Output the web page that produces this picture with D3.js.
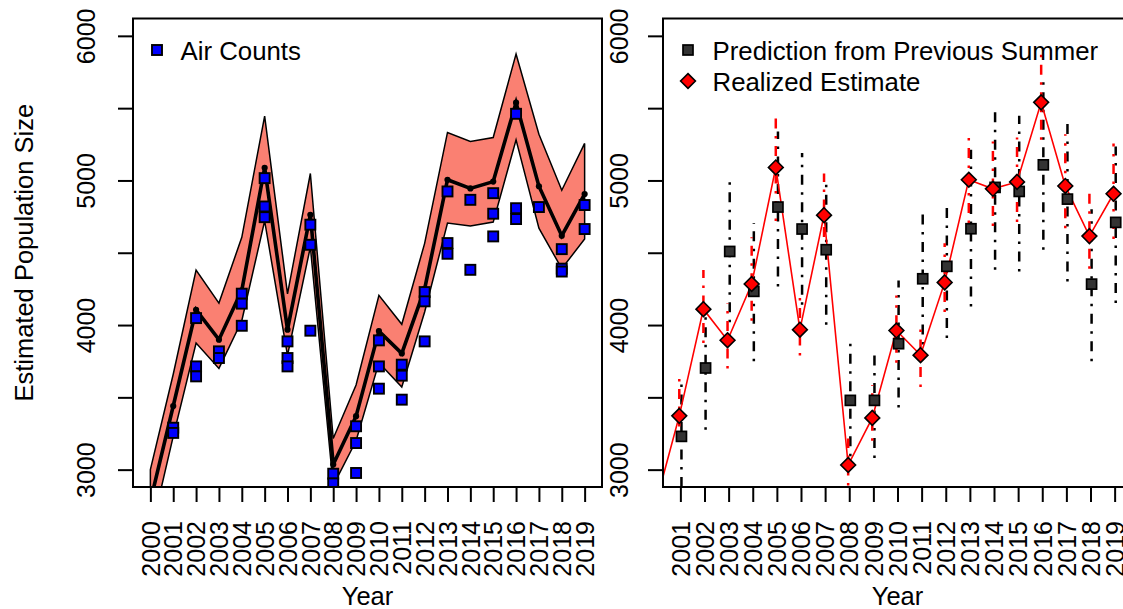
<!DOCTYPE html>
<html>
<head>
<meta charset="utf-8">
<script src="https://cdn.jsdelivr.net/npm/d3@7"></script>
<style>
  body { margin: 0; background: #fff; }
  svg text { font-family: "Liberation Sans", Arial, sans-serif; fill: #000; }
</style>
</head>
<body>
<svg id="chart" width="1123" height="609"></svg>
<script>
// estimated population, 2000-2019 (interval + realized estimate)
var years = [2000, 2001, 2002, 2003, 2004, 2005, 2006, 2007, 2008, 2009,
             2010, 2011, 2012, 2013, 2014, 2015, 2016, 2017, 2018, 2019];
var est = [2750, 3372, 4110, 3895, 4284, 5090, 3968, 4760, 3032, 3358,
           3962, 3792, 4295, 5005, 4942, 4990, 5540, 4962, 4615, 4908];
// posterior median drawn in the left panel
var median = [2780, 3440, 4105, 3899, 4240, 5088, 3968, 4762, 3036, 3370,
              3958, 3804, 4250, 5005, 4945, 4992, 5538, 4960, 4618, 4906];
var lo = [2550, 3230, 3876, 3700, 4030, 4720, 3790, 4540, 2890, 3200,
          3740, 3572, 4090, 4705, 4685, 4712, 5281, 4670, 4390, 4595];
var hi = [3000, 3660, 4380, 4152, 4607, 5445, 4215, 5048, 3215, 3585,
          4205, 4005, 4565, 5332, 5270, 5297, 5875, 5320, 4932, 5256];

// air counts (several surveys per year)
var countYear = [2001, 2001, 2002, 2002, 2002, 2003, 2003, 2004, 2004, 2004,
                 2005, 2005, 2005, 2006, 2006, 2006, 2007, 2007, 2007, 2008,
                 2008, 2009, 2009, 2009, 2010, 2010, 2010, 2011, 2011, 2011,
                 2012, 2012, 2012, 2013, 2013, 2013, 2014, 2014, 2015, 2015,
                 2015, 2016, 2016, 2016, 2017, 2018, 2018, 2018, 2019, 2019];
var countVal = [3290, 3254, 4048, 3714, 3645, 3818, 3772, 4217, 4148, 3995,
                5016, 4820, 4746, 3887, 3772, 3714, 4694, 4555, 3961, 2972,
                2905, 3300, 3184, 2977, 3894, 3714, 3560, 3726, 3650, 3484,
                4228, 4164, 3887, 4924, 4567, 4493, 4866, 4382, 4912, 4770,
                4613, 5461, 4808, 4733, 4816, 4525, 4390, 4370, 4830, 4664];

// prediction from previous summer, 2001-2019
var predYears = [2001, 2002, 2003, 2004, 2005, 2006, 2007, 2008, 2009, 2010,
                 2011, 2012, 2013, 2014, 2015, 2016, 2017, 2018, 2019];
var pred = [3230, 3703, 4509, 4233, 4816, 4664, 4521, 3479, 3479, 3871,
            4320, 4406, 4666, 4952, 4924, 5108, 4871, 4283, 4710];
var predLo = [2810, 3276, 4020, 3749, 4267, 4140, 4002, 3092, 3081, 3430,
              3866, 3910, 4129, 4382, 4371, 4521, 4302, 3749, 4152];
var predHi = [3622, 4070, 4993, 4705, 5339, 5189, 5005, 3887, 3841, 4308,
              4774, 4862, 5212, 5500, 5447, 5690, 5419, 4800, 5235];

var yTicks = [3000, 3500, 4000, 4500, 5000, 5500, 6000];

var svg = d3.select("#chart");

var plotTop = 18.5, plotBottom = 487;
var y = d3.scaleLinear().domain([2880, 6120]).range([plotBottom, plotTop]);
var xL = d3.scaleLinear().domain([1999.24, 2019.76]).range([133, 602]);
var xR = d3.scaleLinear().domain([2000.28, 2019.72]).range([663, 1132]);

var diamond = function (r) {
  return "M0," + (-r) + "L" + r + ",0L0," + r + "L" + (-r) + ",0Z";
};

function clipFor(id, x) {
  svg.append("clipPath").attr("id", id)
    .append("rect")
      .attr("x", x.range()[0]).attr("y", plotTop)
      .attr("width", x.range()[1] - x.range()[0])
      .attr("height", plotBottom - plotTop);
}

function axes(x, tickYears, labelOffset) {
  var ax = svg.append("g")
    .attr("transform", "translate(0," + plotBottom + ")")
    .call(d3.axisBottom(x).tickValues(tickYears).tickSize(15).tickFormat(d3.format("d")));
  ax.select(".domain").remove();
  ax.selectAll("line").attr("stroke", "#000").attr("stroke-width", 2);
  ax.selectAll("text")
    .attr("transform", "rotate(-90)")
    .attr("x", -34).attr("y", 0).attr("dy", "0.35em")
    .attr("text-anchor", "end")
    .style("font-size", "25px");

  var ay = svg.append("g")
    .attr("transform", "translate(" + x.range()[0] + ",0)")
    .call(d3.axisLeft(y).tickValues(yTicks).tickSize(15)
      .tickFormat(function (d) { return d % 1000 === 0 ? d : ""; }));
  ay.select(".domain").remove();
  ay.selectAll("line").attr("stroke", "#000").attr("stroke-width", 2);
  ay.selectAll("text")
    .attr("transform", "rotate(-90)")
    .attr("x", 0).attr("y", -labelOffset).attr("dy", 0)
    .attr("text-anchor", "middle")
    .style("font-size", "25px");

  // plot box
  svg.append("rect")
    .attr("x", x.range()[0]).attr("y", plotTop)
    .attr("width", x.range()[1] - x.range()[0])
    .attr("height", plotBottom - plotTop)
    .attr("fill", "none").attr("stroke", "#000").attr("stroke-width", 2);

  svg.append("text")
    .attr("x", (x.range()[0] + x.range()[1]) / 2).attr("y", 605)
    .attr("text-anchor", "middle")
    .style("font-size", "25.5px")
    .text("Year");
}

// ---------- left panel ----------
clipFor("clipL", xL);
var gL = svg.append("g").attr("clip-path", "url(#clipL)");

var band = d3.area()
  .x(function (d, i) { return xL(years[i]); })
  .y0(function (d, i) { return y(lo[i]); })
  .y1(function (d, i) { return y(hi[i]); });

gL.append("path")
  .datum(years)
  .attr("d", band)
  .attr("fill", "salmon")
  .attr("stroke", "#000")
  .attr("stroke-width", 1.5)
  .attr("stroke-linejoin", "miter");

var medLine = d3.line()
  .x(function (d, i) { return xL(years[i]); })
  .y(function (d) { return y(d); });

gL.append("path")
  .datum(median)
  .attr("d", medLine)
  .attr("fill", "none")
  .attr("stroke", "#000")
  .attr("stroke-width", 3.6);

gL.selectAll("circle.med")
  .data(median)
  .enter()
  .append("circle")
    .attr("class", "med")
    .attr("cx", function (d, i) { return xL(years[i]); })
    .attr("cy", function (d) { return y(d); })
    .attr("r", 3.1)
    .attr("fill", "#000");

gL.selectAll("rect.count")
  .data(countVal)
  .enter()
  .append("rect")
    .attr("class", "count")
    .attr("x", function (d, i) { return xL(countYear[i]) - 5; })
    .attr("y", function (d) { return y(d) - 5; })
    .attr("width", 10).attr("height", 10)
    .attr("fill", "#0000ff")
    .attr("stroke", "#000")
    .attr("stroke-width", 1.9);

axes(xL, years, 38);

svg.append("text")
  .attr("transform", "translate(33," + ((plotTop + plotBottom) / 2) + ") rotate(-90)")
  .attr("text-anchor", "middle")
  .style("font-size", "25.5px")
  .text("Estimated Population Size");

// legend
svg.append("rect")
  .attr("x", 157 - 5).attr("y", 50 - 5).attr("width", 10).attr("height", 10)
  .attr("fill", "#0000ff").attr("stroke", "#000").attr("stroke-width", 1.9);
svg.append("text")
  .attr("x", 180.5).attr("y", 59.5)
  .style("font-size", "25.8px")
  .text("Air Counts");

// ---------- right panel ----------
clipFor("clipR", xR);
var gR = svg.append("g").attr("clip-path", "url(#clipR)");
var off = 0.045;

// prediction intervals (black dot-dash)
gR.selectAll("line.pbar")
  .data(pred)
  .enter()
  .append("line")
    .attr("class", "pbar")
    .attr("x1", function (d, i) { return xR(predYears[i] + off); })
    .attr("x2", function (d, i) { return xR(predYears[i] + off); })
    .attr("y1", function (d, i) { return y(predLo[i]); })
    .attr("y2", function (d, i) { return y(predHi[i]); })
    .attr("stroke", "#000")
    .attr("stroke-width", 2.5)
    .attr("stroke-dasharray", "2.5,7.5,10,7.5");

// realized intervals (red dot-dash)
gR.selectAll("line.rbar")
  .data(est.slice(1))
  .enter()
  .append("line")
    .attr("class", "rbar")
    .attr("x1", function (d, i) { return xR(years[i + 1] - off); })
    .attr("x2", function (d, i) { return xR(years[i + 1] - off); })
    .attr("y1", function (d, i) { return y(lo[i + 1]); })
    .attr("y2", function (d, i) { return y(hi[i + 1]); })
    .attr("stroke", "#ff0000")
    .attr("stroke-width", 2.5)
    .attr("stroke-dasharray", "2.5,7.5,10,7.5");

gR.append("path")
  .datum(est)
  .attr("d", d3.line()
    .x(function (d, i) { return xR(years[i] - off); })
    .y(function (d) { return y(d); }))
  .attr("fill", "none")
  .attr("stroke", "#ff0000")
  .attr("stroke-width", 1.6);

gR.selectAll("rect.pred")
  .data(pred)
  .enter()
  .append("rect")
    .attr("class", "pred")
    .attr("x", function (d, i) { return xR(predYears[i] + off) - 5; })
    .attr("y", function (d) { return y(d) - 5; })
    .attr("width", 10).attr("height", 10)
    .attr("fill", "#333333")
    .attr("stroke", "#000")
    .attr("stroke-width", 1.7);

gR.selectAll("path.real")
  .data(est.slice(1))
  .enter()
  .append("path")
    .attr("class", "real")
    .attr("transform", function (d, i) {
      return "translate(" + xR(years[i + 1] - off) + "," + y(d) + ")";
    })
    .attr("d", diamond(7.4))
    .attr("fill", "#ff0000")
    .attr("stroke", "#000")
    .attr("stroke-width", 1.6);

axes(xR, predYears, 35);

// legend
svg.append("rect")
  .attr("x", 688 - 5).attr("y", 50 - 5).attr("width", 10).attr("height", 10)
  .attr("fill", "#333333").attr("stroke", "#000").attr("stroke-width", 1.7);
svg.append("path")
  .attr("transform", "translate(688,81)")
  .attr("d", diamond(7.4))
  .attr("fill", "#ff0000").attr("stroke", "#000").attr("stroke-width", 1.6);
svg.append("text")
  .attr("x", 712.5).attr("y", 59.5)
  .style("font-size", "25.8px")
  .text("Prediction from Previous Summer");
svg.append("text")
  .attr("x", 712.5).attr("y", 90.5)
  .style("font-size", "25.8px")
  .text("Realized Estimate");
</script>
</body>
</html>
